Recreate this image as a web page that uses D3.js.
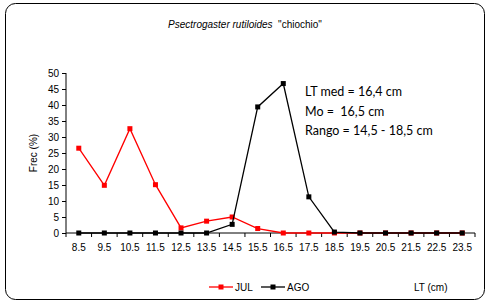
<!DOCTYPE html>
<html>
<head>
<meta charset="utf-8">
<script src="https://cdn.jsdelivr.net/npm/d3@7"></script>
<style>
  body { margin: 0; background: #fff; }
  text { font-family: Arial, "Liberation Sans", sans-serif; }
</style>
</head>
<body>
<div id="viz"></div>
<script>
var categories = ["8.5","9.5","10.5","11.5","12.5","13.5","14.5","15.5","16.5","17.5","18.5","19.5","20.5","21.5","22.5","23.5"];
var julValues = [26.5, 14.9, 32.6, 15.1, 1.6, 3.7, 5.0, 1.4, 0, 0, 0, 0, 0, 0, 0, 0];
var agoValues = [0, 0, 0, 0, 0, 0, 2.7, 39.4, 46.7, 11.3, 0.3, 0, 0, 0, 0, 0];
var yTicks = [0,5,10,15,20,25,30,35,40,45,50];
var notes = ["LT med = 16,4 cm", "Mo =  16,5 cm", "Rango = 14,5 - 18,5 cm"];

var W = 489, H = 303;
var svg = d3.select("#viz").append("svg")
    .attr("width", W)
    .attr("height", H);

// outer frame
svg.append("rect")
    .attr("x", 5.5).attr("y", 3.5)
    .attr("width", 479).attr("height", 296)
    .attr("rx", 10).attr("ry", 10)
    .attr("fill", "#fff").attr("stroke", "#000").attr("stroke-width", 1);

// plot area (avoid the name "top", it is window.top)
var pLeft = 66, pRight = 475, pTop = 73, pBottom = 233;

var x = d3.scaleBand().domain(categories).range([pLeft, pRight]);
var y = d3.scaleLinear().domain([0, 50]).range([pBottom, pTop]);

// y axis
var yAxis = svg.append("g")
    .attr("transform", "translate(" + pLeft + ",0)")
    .call(d3.axisLeft(y).tickValues(yTicks).tickSize(4).tickPadding(3));
yAxis.select(".domain").attr("d", "M0," + pTop + "V" + pBottom);
yAxis.selectAll("text").attr("font-size", 10).attr("fill", "#000");

// x axis, ticks between categories
var xAxis = svg.append("g")
    .attr("transform", "translate(0," + pBottom + ")");
xAxis.append("line")
    .attr("x1", pLeft).attr("x2", pRight)
    .attr("stroke", "#000");
xAxis.selectAll("line.tick")
    .data(categories.concat(["end"]))
    .enter().append("line")
    .attr("class", "tick")
    .attr("x1", function(d, i){ return pLeft + i * x.step(); })
    .attr("x2", function(d, i){ return pLeft + i * x.step(); })
    .attr("y1", 0).attr("y2", 4)
    .attr("stroke", "#000");
xAxis.selectAll("text")
    .data(categories)
    .enter().append("text")
    .attr("x", function(d){ return x(d) + x.bandwidth() / 2; })
    .attr("y", 18)
    .attr("text-anchor", "middle")
    .attr("font-size", 10)
    .text(function(d){ return d; });

var line = d3.line()
    .x(function(d, i){ return x(categories[i]) + x.bandwidth() / 2; })
    .y(function(d){ return y(d); });

function drawSeries(values, color){
    svg.append("path")
        .datum(values)
        .attr("d", line)
        .attr("fill", "none")
        .attr("stroke", color)
        .attr("stroke-width", 1.3);
    svg.selectAll(null)
        .data(values)
        .enter().append("rect")
        .attr("x", function(d, i){ return x(categories[i]) + x.bandwidth() / 2 - 2.5; })
        .attr("y", function(d){ return y(d) - 2.5; })
        .attr("width", 5).attr("height", 5)
        .attr("fill", color);
}
drawSeries(julValues, "#ff0000");
drawSeries(agoValues, "#000000");

// title
var title = svg.append("text")
    .attr("x", 245).attr("y", 28)
    .attr("text-anchor", "middle")
    .attr("font-size", 10);
title.append("tspan").attr("font-style", "italic").text("Psectrogaster rutiloides");
title.append("tspan").style("white-space", "pre").text("  \"chiochio\"");

// y label
svg.append("text")
    .attr("transform", "translate(37,153) rotate(-90)")
    .attr("text-anchor", "middle")
    .attr("font-size", 10)
    .text("Frec (%)");

// annotation
svg.selectAll("text.note")
    .data(notes)
    .enter().append("text")
    .attr("class", "note")
    .attr("x", 305)
    .attr("y", function(d, i){ return 96 + i * 19.5; })
    .attr("font-size", 12.5)
    .style("font-family", "Lato, 'Open Sans', sans-serif")
    .style("white-space", "pre")
    .text(function(d){ return d; });

// legend
var legend = [{name: "JUL", color: "#ff0000", x: 209}, {name: "AGO", color: "#000", x: 261}];
legend.forEach(function(l){
    svg.append("line")
        .attr("x1", l.x).attr("x2", l.x + 24)
        .attr("y1", 287).attr("y2", 287)
        .attr("stroke", l.color).attr("stroke-width", 1.3);
    svg.append("rect")
        .attr("x", l.x + 9.5).attr("y", 284.5)
        .attr("width", 5).attr("height", 5)
        .attr("fill", l.color);
    svg.append("text")
        .attr("x", l.x + 26).attr("y", 291)
        .attr("font-size", 10)
        .text(l.name);
});

svg.append("text")
    .attr("x", 414).attr("y", 291)
    .attr("font-size", 10)
    .text("LT (cm)");
</script>
</body>
</html>
